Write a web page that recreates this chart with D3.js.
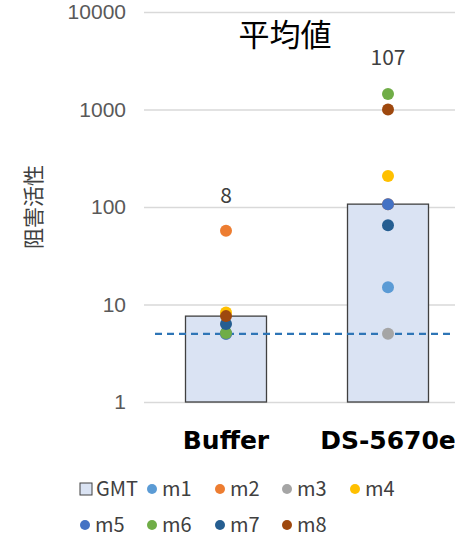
<!DOCTYPE html>
<html>
<head>
<meta charset="utf-8">
<script src="https://cdn.jsdelivr.net/npm/d3@7"></script>
<style>
  body { margin: 0; background: #fff; }
  svg { font-family: "Noto Sans CJK JP", "Noto Sans", sans-serif; }
</style>
</head>
<body>
<div id="chart"></div>
<script>
  "use strict";

  // -- data --
  var categories = ["Buffer", "DS-5670e"];
  var gmt = [7.6, 107];
  var gmtLabels = ["8", "107"];
  var seriesNames = ["m1", "m2", "m3", "m4", "m5", "m6", "m7", "m8"];
  var buffer = [5, 57, 5, 8.3, 5, 5.1, 6.3, 7.6];
  var ds5670e = [15, 107, 5, 208, 107, 1440, 65, 1000];
  var threshold = 5;
  var yTicks = [1, 10, 100, 1000, 10000];

  var colors = ["#5B9BD5", "#ED7D31", "#A5A5A5", "#FFC000",
                "#4472C4", "#70AD47", "#255E91", "#9E480E"];

  var width = 455, height = 538;

  var svg = d3.select("#chart").append("svg")
      .attr("width", width)
      .attr("height", height);

  var y = d3.scaleLog().domain([1, 10000]).range([402, 12]);
  var x = d3.scalePoint().domain(categories).range([145, 469]).padding(0.5);
  var barWidth = x.step() * 0.5;

  // gridlines + tick labels
  var yAxis = d3.axisLeft(y)
      .tickValues(yTicks)
      .tickFormat(d3.format("d"))
      .tickSize(-(width - 144))
      .tickPadding(18);

  var gAxis = svg.append("g")
      .attr("transform", "translate(144,0)")
      .call(yAxis);
  gAxis.select(".domain").remove();
  gAxis.selectAll(".tick line")
      .attr("stroke", "#D9D9D9")
      .attr("stroke-width", 1.5);
  gAxis.selectAll(".tick text")
      .attr("fill", "#595959")
      .attr("font-size", 21);

  // bars (GMT)
  svg.append("g").selectAll("rect")
    .data(categories)
    .join("rect")
      .attr("x", function (d) { return x(d) - barWidth / 2; })
      .attr("y", function (d, i) { return y(gmt[i]); })
      .attr("width", barWidth)
      .attr("height", function (d, i) { return y(1) - y(gmt[i]); })
      .attr("fill", "#DAE3F3")
      .attr("stroke", "#404040")
      .attr("stroke-width", 1.3);

  // threshold line
  svg.append("line")
      .attr("x1", 155).attr("x2", width)
      .attr("y1", y(threshold)).attr("y2", y(threshold))
      .attr("stroke", "#2E75B6")
      .attr("stroke-width", 2.2)
      .attr("stroke-dasharray", "7,5");

  // dots, one series at a time so later ones sit on top
  var rows = [buffer, ds5670e];
  seriesNames.forEach(function (name, s) {
    svg.append("g").selectAll("circle")
      .data(categories)
      .join("circle")
        .attr("cx", function (d) { return x(d); })
        .attr("cy", function (d, i) { return y(rows[i][s]); })
        .attr("r", 6)
        .attr("fill", colors[s]);
  });

  // value labels
  svg.append("g").selectAll("text")
    .data(categories)
    .join("text")
      .attr("x", function (d) { return x(d); })
      .attr("y", function (d, i) { return i === 0 ? 203 : 65; })
      .attr("text-anchor", "middle")
      .attr("fill", "#404040")
      .attr("font-size", 21)
      .text(function (d, i) { return gmtLabels[i]; });

  // category labels
  svg.append("g").selectAll("text")
    .data(categories)
    .join("text")
      .attr("x", function (d) { return x(d); })
      .attr("y", 449)
      .attr("text-anchor", "middle")
      .attr("fill", "#000")
      .attr("font-family", "'DejaVu Sans', sans-serif")
      .attr("font-size", 25)
      .attr("font-weight", 700)
      .text(function (d) { return d; });

  // title
  svg.append("text")
      .attr("x", 285).attr("y", 46)
      .attr("text-anchor", "middle")
      .attr("font-size", 31)
      .attr("fill", "#000")
      .text("平均値");

  // y axis title
  svg.append("text")
      .attr("transform", "translate(41,207) rotate(-90)")
      .attr("text-anchor", "middle")
      .attr("font-size", 21)
      .attr("fill", "#404040")
      .text("阻害活性");

  // legend
  var legendItems = [{ name: "GMT", type: "rect" }].concat(seriesNames.map(function (n, i) {
    return { name: n, type: "dot", color: colors[i] };
  }));
  var legendPos = [[80, 489], [146, 489], [214, 489], [281, 489], [349, 489],
                   [79, 525], [146, 525], [214, 525], [281, 525]];

  var legend = svg.append("g").selectAll("g")
    .data(legendItems)
    .join("g")
      .attr("transform", function (d, i) { return "translate(" + legendPos[i][0] + "," + legendPos[i][1] + ")"; });

  legend.filter(function (d) { return d.type === "rect"; })
    .append("rect")
      .attr("x", 0).attr("y", -6)
      .attr("width", 12).attr("height", 12)
      .attr("fill", "#DAE3F3")
      .attr("stroke", "#404040")
      .attr("stroke-width", 1);

  legend.filter(function (d) { return d.type === "dot"; })
    .append("circle")
      .attr("cx", 6).attr("cy", 0)
      .attr("r", 5)
      .attr("fill", function (d) { return d.color; });

  legend.append("text")
      .attr("x", 16)
      .attr("y", 7)
      .attr("font-size", 20)
      .attr("fill", "#404040")
      .text(function (d) { return d.name; });
</script>
</body>
</html>
